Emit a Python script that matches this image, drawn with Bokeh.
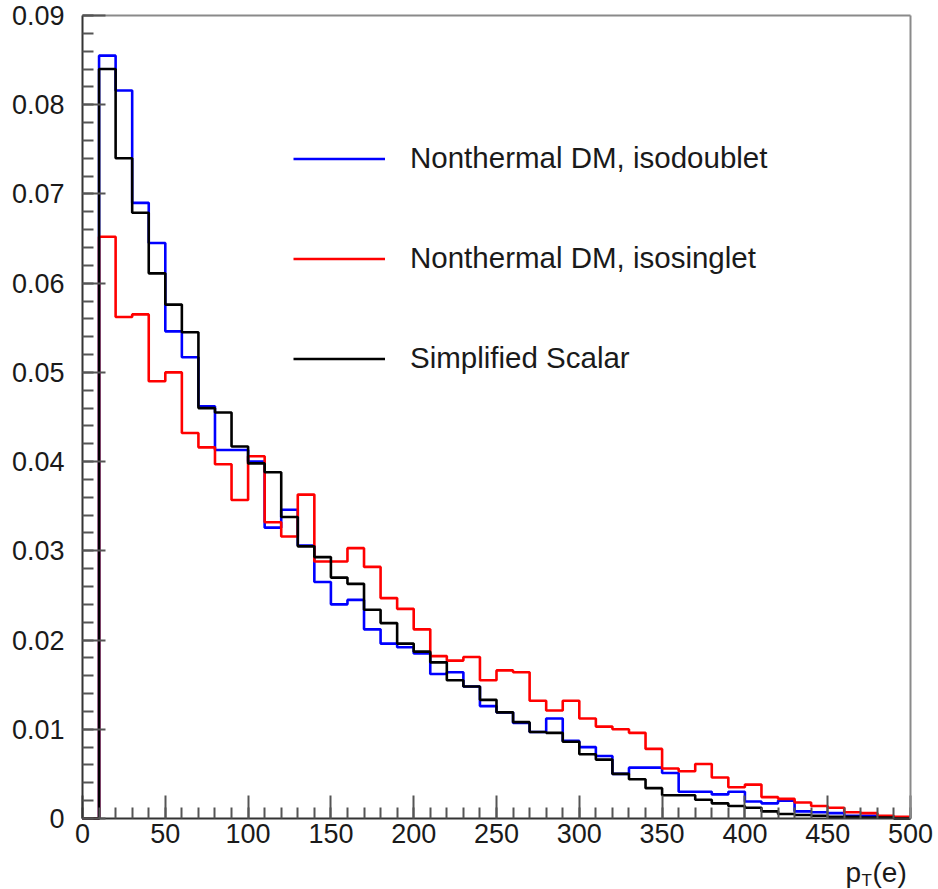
from bokeh.plotting import figure
from bokeh.models import (Range1d, FixedTicker, Legend, LegendItem, Label, LinearAxis,
                          CustomJSTickFormatter)
from bokeh.embed import file_html
from bokeh.resources import INLINE

# ---- data (bin edges 0..500 in steps of 10; first bin 0-10 empty) ----
bin_edges = list(range(0, 510, 10))

isodoublet = [0.0,
    0.0855, 0.0816, 0.0690, 0.0645, 0.0546, 0.0517, 0.0462, 0.0413, 0.0413, 0.0400,
    0.0326, 0.0346, 0.0306, 0.0265, 0.0240, 0.0245, 0.0212, 0.0196, 0.0192, 0.0185,
    0.0162, 0.0164, 0.0148, 0.0126, 0.0119, 0.0107, 0.0097, 0.0112, 0.0087, 0.0080,
    0.0070, 0.0050, 0.0057, 0.0057, 0.0051, 0.0030, 0.0030, 0.0027, 0.0030, 0.0019,
    0.0017, 0.0020, 0.0008, 0.0007, 0.0006, 0.0003, 0.0003, 0.0001, 0.0001]

isosinglet = [0.0,
    0.0652, 0.0562, 0.0565, 0.0490, 0.0500, 0.0432, 0.0416, 0.0397, 0.0357, 0.0406,
    0.0332, 0.0316, 0.0363, 0.0288, 0.0288, 0.0303, 0.0282, 0.0247, 0.0235, 0.0212,
    0.0182, 0.0177, 0.0181, 0.0155, 0.0166, 0.0164, 0.0132, 0.0121, 0.0132, 0.0112,
    0.0103, 0.0100, 0.0096, 0.0078, 0.0056, 0.0053, 0.0061, 0.0046, 0.0035, 0.0038,
    0.0024, 0.0022, 0.0018, 0.0014, 0.0012, 0.0007, 0.0006, 0.0003, 0.0002]

simplified = [0.0,
    0.0840, 0.0740, 0.0679, 0.0611, 0.0576, 0.0545, 0.0460, 0.0455, 0.0417, 0.0398,
    0.0388, 0.0338, 0.0305, 0.0293, 0.0270, 0.0263, 0.0234, 0.0219, 0.0196, 0.0187,
    0.0175, 0.0155, 0.0148, 0.0133, 0.0119, 0.0108, 0.0097, 0.0096, 0.0086, 0.0072,
    0.0066, 0.0050, 0.0044, 0.0034, 0.0026, 0.0026, 0.0021, 0.0017, 0.0014, 0.0012,
    0.0008, 0.0005, 0.0004, 0.0003, 0.0002, 0.0002, 0.0001, 0.0001, 0.0000]

series_labels = ["Nonthermal DM, isodoublet", "Nonthermal DM, isosinglet", "Simplified Scalar"]
series_colors = ["#0000ff", "#ff0000", "#000000"]

x_ticks = [0, 50, 100, 150, 200, 250, 300, 350, 400, 450, 500]
y_ticks = [0.0, 0.01, 0.02, 0.03, 0.04, 0.05, 0.06, 0.07, 0.08, 0.09]
x_min, x_max = 0, 500
y_min, y_max = 0.0, 0.09

x_title_parts = ["p", "T", "(e)"]

FONT = "Liberation Sans"
TEXT_COLOR = "#1a1a1a"

# page geometry (pixels): where the data box sits inside the 938x889 page
W, H = 938, 889
BOX_L, BOX_R, BOX_T, BOX_B = 82, 910, 15, 818
# the plotting frame covers the whole page; the axes are pinned to the data box
sx = (x_max - x_min) / (BOX_R - BOX_L)
sy = (y_max - y_min) / (BOX_B - BOX_T)
x_lo, x_hi = x_min - BOX_L * sx, x_max + (W - BOX_R) * sx
y_lo, y_hi = y_min - (H - BOX_B) * sy, y_max + BOX_T * sy

p = figure(width=W, height=H, output_backend="svg", toolbar_location=None,
           x_range=Range1d(x_lo, x_hi), y_range=Range1d(y_lo, y_hi),
           x_axis_location=None, y_axis_location=None,
           min_border_left=0, min_border_right=0, min_border_top=0, min_border_bottom=0)
p.grid.visible = False
p.outline_line_color = None
p.background_fill_color = "white"
p.border_fill_color = "white"

renderers = []
for vals, col in zip([isodoublet, isosinglet, simplified], series_colors):
    r = p.step(x=bin_edges, y=vals + [vals[-1]], mode="after",
               line_color=col, line_width=2.6)
    renderers.append(r)

# axes
x_minor = list(range(0, 501, 10))
y_minor = [i * 0.002 for i in range(46)]
xaxis = LinearAxis(ticker=FixedTicker(ticks=x_ticks, minor_ticks=x_minor),
                   fixed_location=y_min, bounds=(x_min, x_max))
yaxis = LinearAxis(ticker=FixedTicker(ticks=y_ticks, minor_ticks=y_minor),
                   fixed_location=x_min, bounds=(y_min, y_max),
                   formatter=CustomJSTickFormatter(code="return tick == 0 ? '0' : tick.toFixed(2);"))
for ax in (xaxis, yaxis):
    ax.axis_line_color = "#333333"
    ax.axis_line_width = 2
    ax.major_tick_in = 23
    ax.major_tick_out = 0
    ax.minor_tick_in = 11
    ax.minor_tick_out = 0
    ax.major_tick_line_color = "#555555"
    ax.major_tick_line_width = 2
    ax.minor_tick_line_color = "#555555"
    ax.minor_tick_line_width = 2
    ax.major_label_text_font = FONT
    ax.major_label_text_font_size = "27px"
    ax.major_label_text_color = TEXT_COLOR
xaxis.major_label_standoff = 5
yaxis.major_label_standoff = 18
p.add_layout(xaxis, "below")
p.add_layout(yaxis, "left")

# grey frame lines on the top and right (ROOT pad frame)
top_line = LinearAxis(ticker=FixedTicker(ticks=[]), fixed_location=y_max, bounds=(x_min, x_max),
                      axis_line_color="#8a8a8a", axis_line_width=2,
                      major_tick_line_color=None, minor_tick_line_color=None)
right_line = LinearAxis(ticker=FixedTicker(ticks=[]), fixed_location=x_max, bounds=(y_min, y_max),
                        axis_line_color="#8a8a8a", axis_line_width=2,
                        major_tick_line_color=None, minor_tick_line_color=None)
p.add_layout(top_line, "above")
p.add_layout(right_line, "right")

# legend (no box); location = bottom-left corner of the legend, from the frame's bottom-left
items = [LegendItem(label=lab, renderers=[r]) for lab, r in zip(series_labels, renderers)]
legend = Legend(items=items, location=(293, 514), orientation="vertical",
                glyph_width=92, glyph_height=33, label_height=33, label_width=300,
                spacing=66, padding=0, margin=0, label_standoff=25,
                border_line_alpha=0, background_fill_alpha=0,
                label_text_font=FONT, label_text_font_size="29.5px",
                label_text_color=TEXT_COLOR)
p.add_layout(legend)

# x axis title p_T(e) at the bottom right
p.add_layout(Label(x=845, y=17, x_units="screen", y_units="screen", text=x_title_parts[0],
                   text_font=FONT, text_font_size="28px", text_color=TEXT_COLOR,
                   text_align="left", text_baseline="alphabetic"))
p.add_layout(Label(x=861, y=9, x_units="screen", y_units="screen", text=x_title_parts[1],
                   text_font=FONT, text_font_size="17px", text_color=TEXT_COLOR,
                   text_align="left", text_baseline="alphabetic"))
p.add_layout(Label(x=872, y=17, x_units="screen", y_units="screen", text=x_title_parts[2],
                   text_font=FONT, text_font_size="28px", text_color=TEXT_COLOR,
                   text_align="left", text_baseline="alphabetic"))

open("out.html", "w").write(file_html(p, INLINE))
